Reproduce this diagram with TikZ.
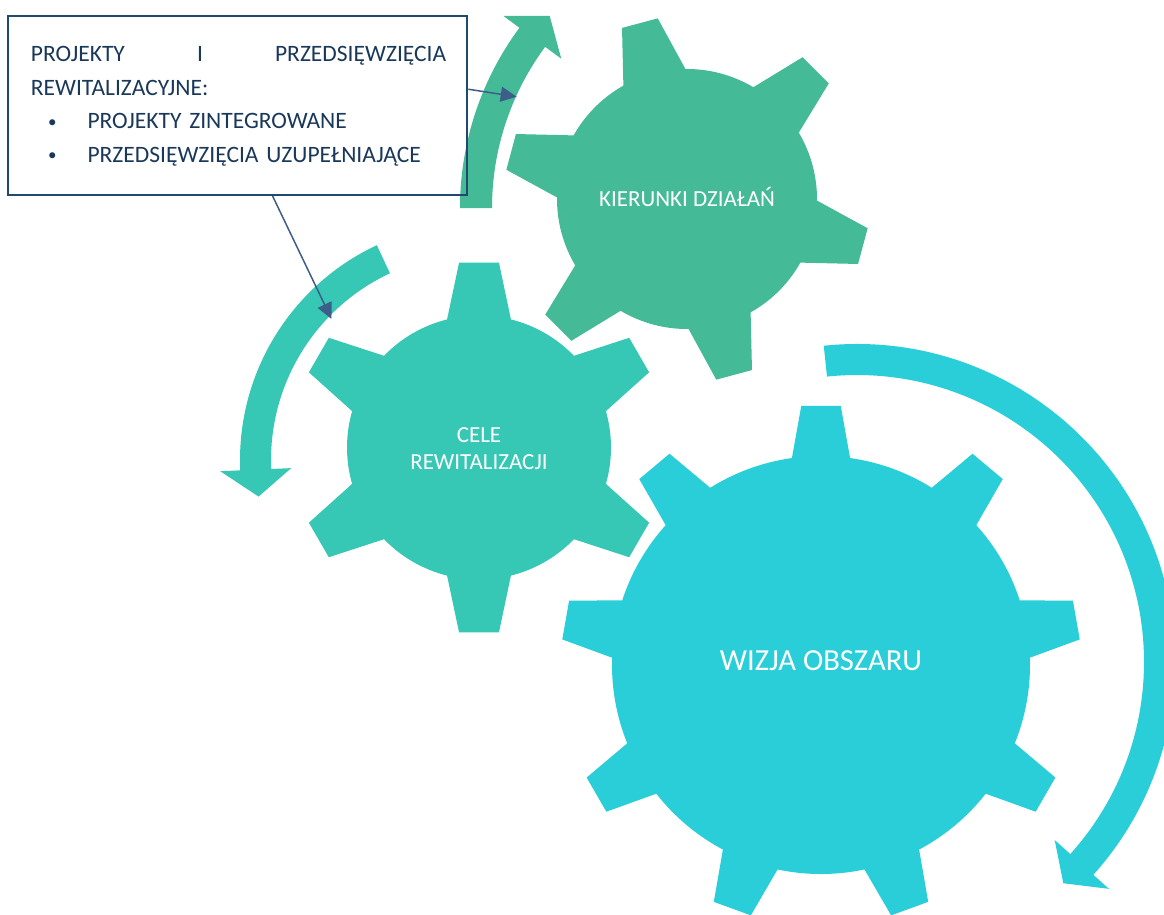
\documentclass[tikz,border=0pt]{standalone}
\usepackage{fontspec}
\setmainfont{Carlito}
\usetikzlibrary{arrows.meta}
\definecolor{gearcyan}{RGB}{42,206,216}
\definecolor{gearteal}{RGB}{55,199,181}
\definecolor{geargreen}{RGB}{69,186,150}
\definecolor{boxnavy}{RGB}{31,73,110}
\definecolor{textnavy}{RGB}{26,56,90}
\definecolor{pointerblue}{RGB}{62,94,138}
% gear: [style](centre)(first tooth:teeth)(body r:tip r:tip half angle:root half angle)
\def\gear[#1](#2)(#3:#4)(#5:#6:#7:#8){\fill[#1,shift={(#2)}] ({#3-#8}:#5)
  \foreach \k [evaluate=\k as \ang using #3+(\k-1)*360/#4] in {1,...,#4}
  { -- ({\ang-#7}:#6) -- ({\ang+#7}:#6) -- ({\ang+#8}:#5)
    arc[start angle=\ang+#8, end angle=\ang+360/#4-#8, radius=#5] } -- cycle;}
% bent arrow: [style](centre)(tail:shaft end:tip)(inner r:outer r:barb)
\def\bentarrow[#1](#2)(#3:#4:#5)(#6:#7:#8){\fill[#1,shift={(#2)}] (#3:#7)
  arc[start angle=#3, end angle=#4, radius=#7] -- (#4:{#7+#8}) -- (#5:{(#6+#7)/2})
  -- (#4:{#6-#8}) -- (#4:#6) arc[start angle=#4, end angle=#3, radius=#6] -- cycle;}
\def\itemdot{\hspace*{17.3pt}\makebox[39.3pt][l]{\fontsize{17}{17}\selectfont\raisebox{1.5pt}{•}}}
\tikzset{
  gearlabel/.style={text=white, inner sep=0pt},
  callout/.style={draw=boxnavy, line width=2pt, minimum width=459, minimum height=179.3, anchor=north west},
  pointer/.style={draw=pointerblue, line width=1.5pt, -{Triangle[length=16pt,width=15pt]}}
}

\begin{document}
\begin{tikzpicture}[x=1pt,y=1pt]
		%%%%% START %%%%%
		\useasboundingbox (0,0) rectangle (1164,-914);
		\fill[white] (0,0) rectangle (1164,-914);
		
		% turning arrows
		\bentarrow[gearcyan](857,-662)(96:-42:-47)(287:318:21);
		\bentarrow[gearteal](477,-460)(115:182.5:189.5)(206:237:20);
		\bentarrow[geargreen](763,-208)(180:143.5:138)(271:303:20);
		
		% gears
		\gear[gearcyan](821,-665)(90:9)(209:260:4.35:8);
		\gear[gearteal](479,-447.5)(90:6)(132:186:6.15:14);
		\gear[geargreen](687,-199)(105:6)(130:183:5.8:14.3);
		
		\node[gearlabel, anchor=base, font=\fontsize{30.6}{36}\selectfont] (wizja) at (821,-670.5) {WIZJA OBSZARU};
		\node[gearlabel, anchor=north, align=center, font=\fontsize{23}{26.7}\selectfont] (cele) at (479,-427.2) {CELE\\REWITALIZACJI};
		\node[gearlabel, anchor=base, font=\fontsize{23}{27}\selectfont] (kierunki) at (687,-206.7) {KIERUNKI DZIAŁAŃ};
		
		% callout
		\node[callout] (box) at (7.3,-14.7) {};
		\node[anchor=north west, inner sep=0pt, text width=415.3pt, align=left, text=textnavy,
		      font=\fontsize{23.5}{33.5}\selectfont] (boxtext) at (30.7,-46.4)
		  {PROJEKTY\hfill I\hfill PRZEDSIĘWZIĘCIA\\
		   REWITALIZACYJNE:\\
		   \itemdot PROJEKTY ZINTEGROWANE\\
		   \itemdot PRZEDSIĘWZIĘCIA UZUPEŁNIAJĄCE};
		
		\coordinate (tipkier) at (516.7,-96.7);
		\coordinate (tipcele) at (331.5,-319);
		\draw[pointer] (box.4.5) -- (tipkier);
		\draw[pointer] (box.-69.5) -- (tipcele);
		%%%%% END %%%%%
	\end{tikzpicture}
\end{document}
